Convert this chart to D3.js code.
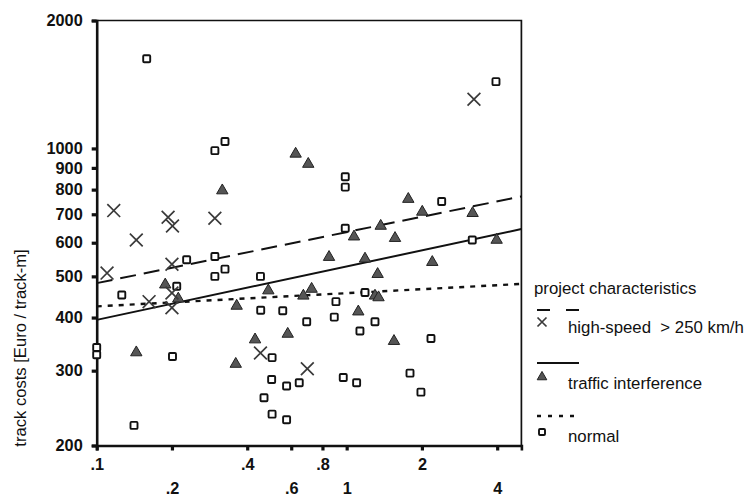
<!DOCTYPE html>
<html><head><meta charset="utf-8">
<script src="https://cdn.jsdelivr.net/npm/d3@7"></script>
<style>body{margin:0;background:#fff} svg{display:block}</style>
</head><body>
<svg id="c" width="746" height="497"></svg>
<script>
// project characteristics: [x-value, track costs Euro/track-m]
const highSpeed = [[0.110,509],[0.117,714],[0.144,609],[0.162,436],[0.193,689],[0.201,657],[0.200,534],[0.200,457],[0.200,422],[0.297,685],[0.452,330],[0.696,303],[3.23,1305]];
const traffic = [[0.144,331],[0.188,478],[0.212,443],[0.318,796],[0.363,426],[0.360,311],[0.430,355],[0.486,463],[0.581,366],[0.625,971],[0.702,919],[0.671,450],[0.724,467],[0.850,555],[1.07,620],[1.113,413],[1.184,550],[1.298,450],[1.341,446],[1.33,506],[1.368,657],[1.546,352],[1.561,615],[1.764,760],[2.006,709],[2.2,540],[3.19,704],[3.98,609]];
const normal = [[0.1,340],[0.1,327],[0.126,452],[0.141,223],[0.1585,1626],[0.201,324],[0.209,474],[0.229,547],[0.297,988],[0.326,1038],[0.297,557],[0.326,520],[0.297,500],[0.452,500],[0.453,416],[0.555,415],[0.503,322],[0.467,259],[0.501,286],[0.503,237],[0.575,276],[0.575,230],[0.646,281],[0.692,391],[0.892,401],[0.906,436],[0.969,289],[0.987,858],[0.987,811],[0.987,649],[1.096,281],[1.13,372],[1.184,458],[1.298,391],[1.792,296],[1.982,267],[2.174,357],[2.399,750],[3.18,609],[3.956,1436]];
const fitHighSpeed = [[0.1,482],[5,771]];
const fitTraffic = [[0.1,395],[5,646]];
const fitNormal = [[0.1,425],[5,480]];
const yTicks = [200,300,400,500,600,700,800,900,1000,2000];
const xTicks = [0.1,0.2,0.4,0.6,0.8,1,2,4];
const xTickLabels = [".1",".2",".4",".6",".8","1","2","4"];
const legendTitle = "project characteristics";
const legendLabels = ["high-speed  > 250 km/h","traffic interference","normal"];
const yTitle = "track costs [Euro / track-m]";

const svg = d3.select("#c");
const font = "'Liberation Sans', Arial, sans-serif";
const x = d3.scaleLog().domain([0.1,5]).range([96.7,521.4]);
const y = d3.scaleLog().domain([200,2000]).range([445.5,20.5]);

// frame (top & right)
svg.append("path")
  .attr("d", `M${x(0.1)},${y(2000)}H${x(5)}V${y(200)}`)
  .attr("fill","none").attr("stroke","#111").attr("stroke-width",1.7);

// y axis
const yAxis = svg.append("g").attr("transform",`translate(${x(0.1)},0)`)
  .call(d3.axisLeft(y).tickValues(yTicks).tickFormat(d3.format("d")).tickSizeOuter(0).tickSize(5).tickPadding(9));
yAxis.select(".domain").attr("stroke","#111").attr("stroke-width",2.6);
yAxis.selectAll(".tick line").attr("stroke","#111").attr("stroke-width",3.2);
yAxis.selectAll(".tick text").attr("font-family",font).attr("font-size",16.3).attr("font-weight","bold").attr("fill","#111");

// x axis
const xAxis = svg.append("g").attr("transform",`translate(0,${y(200)})`)
  .call(d3.axisBottom(x).tickValues(xTicks).tickFormat((d,i)=>xTickLabels[i]).tickSizeOuter(0).tickSize(5));
xAxis.select(".domain").attr("stroke","#111").attr("stroke-width",2.6);
xAxis.selectAll(".tick line").attr("stroke","#111").attr("stroke-width",3.2);
xAxis.selectAll(".tick text").attr("font-family",font).attr("font-size",16.3).attr("font-weight","bold").attr("fill","#111")
  .attr("dy",null).attr("y",(d,i)=> i%2===0 ? 24 : 48.5);

// y title
svg.append("text").attr("transform","translate(26,348) rotate(-90)")
  .attr("text-anchor","middle").attr("font-family",font).attr("font-size",16.6).attr("fill","#111").text(yTitle);

// fit lines
const line = d3.line().x(d=>x(d[0])).y(d=>y(d[1]));
svg.append("path").datum(fitHighSpeed).attr("d",line).attr("fill","none").attr("stroke","#111").attr("stroke-width",2).attr("stroke-dasharray","16,8");
svg.append("path").datum(fitTraffic).attr("d",line).attr("fill","none").attr("stroke","#111").attr("stroke-width",2);
svg.append("path").datum(fitNormal).attr("d",line).attr("fill","none").attr("stroke","#111").attr("stroke-width",2.4).attr("stroke-dasharray","5,6");

// markers
function drawX(g, s){ g.append("path").attr("d",`M${-s},${-s}L${s},${s}M${s},${-s}L${-s},${s}`).attr("fill","none").attr("stroke","#3a3a3a").attr("stroke-width",1.7); }
function drawTri(g, a){ g.append("path").attr("d",d3.symbol(d3.symbolTriangle, a)()).attr("fill","#555").attr("stroke","#222").attr("stroke-width",1); }
function drawSq(g, s){ g.append("rect").attr("x",-s/2).attr("y",-s/2).attr("width",s).attr("height",s).attr("rx",1).attr("fill","#fff").attr("stroke","#111").attr("stroke-width",1.9); }

svg.append("g").selectAll("g").data(normal).join("g").attr("transform",d=>`translate(${x(d[0])},${y(d[1])})`).each(function(){drawSq(d3.select(this),7);});
svg.append("g").selectAll("g").data(traffic).join("g").attr("transform",d=>`translate(${x(d[0])},${y(d[1])})`).each(function(){drawTri(d3.select(this),56);});
svg.append("g").selectAll("g").data(highSpeed).join("g").attr("transform",d=>`translate(${x(d[0])},${y(d[1])})`).each(function(){drawX(d3.select(this),6.4);});

// legend
const lg = svg.append("g");
lg.append("text").attr("x",534).attr("y",294).attr("font-family",font).attr("font-size",16.8).attr("fill","#111").text(legendTitle);
const rows = [
  {ly:310, dash:"13,16", sw:2, my:322, ty:333, m:"x"},
  {ly:363, dash:null, sw:2, my:377, ty:389, m:"t"},
  {ly:416, dash:"4,7", sw:2.4, my:432, ty:442, m:"s"}
];
rows.forEach((r,i)=>{
  const ln = lg.append("line").attr("x1",537).attr("x2",579).attr("y1",r.ly).attr("y2",r.ly).attr("stroke","#111").attr("stroke-width",r.sw);
  if(r.dash) ln.attr("stroke-dasharray",r.dash);
  const g = lg.append("g").attr("transform",`translate(542,${r.my})`);
  if(r.m==="x") drawX(g,4.5); else if(r.m==="t") drawTri(g,40); else drawSq(g,6);
  lg.append("text").attr("x",568).attr("y",r.ty).attr("font-family",font).attr("font-size",16.8).attr("fill","#111").attr("xml:space","preserve").style("white-space","pre").text(legendLabels[i]);
});
</script>
</body></html>
